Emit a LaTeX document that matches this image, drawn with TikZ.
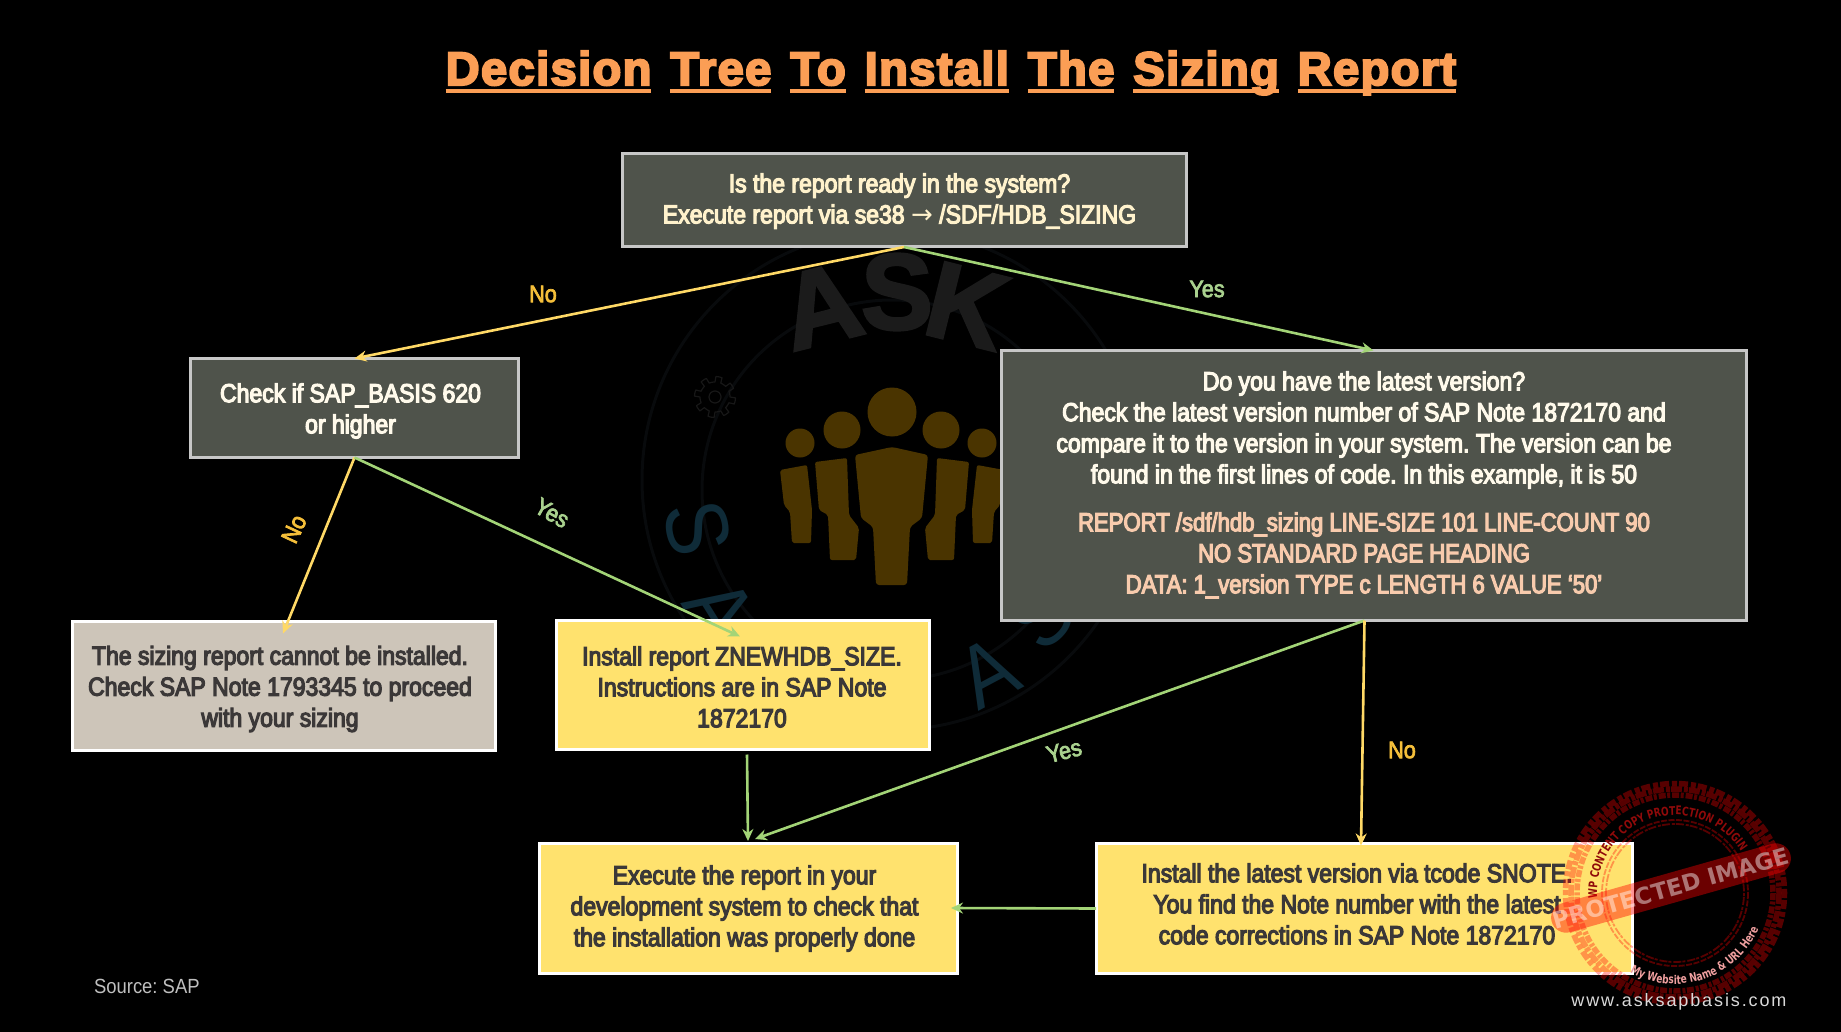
\documentclass[tikz,border=0pt]{standalone}
\usepackage{fontspec}
\usepackage{array}
\usetikzlibrary{arrows.meta,calc,decorations.text}
\setmainfont{Liberation Sans}[FakeStretch=0.885,FakeBold=4.5]
\newfontfamily\peachfont{Liberation Sans}[FakeStretch=0.85,FakeBold=4.5]
\newfontfamily\labelfont{Liberation Sans}[FakeStretch=0.9,FakeBold=3]
\newfontfamily\titlefont{Liberation Sans Bold}[LetterSpace=3,FakeBold=4.5]
\newfontfamily\plainfont{Liberation Sans}[FakeStretch=0.9]
\newfontfamily\askfont{Liberation Sans Bold}[FakeBold=2.5]
\newfontfamily\webfont{Liberation Sans}[LetterSpace=10.5]
\newfontfamily\stampfont{DejaVu Sans Bold}[FakeStretch=0.75]
\newfontfamily\bandfont{DejaVu Sans Bold}
\frenchspacing
\definecolor{greybox}{HTML}{4F534B}
\definecolor{yellowbox}{HTML}{FFE26E}
\definecolor{stonebox}{HTML}{CDC5B9}
\definecolor{cream}{HTML}{FFF2CC}
\definecolor{offwhite}{HTML}{FFFAEB}
\definecolor{peach}{HTML}{F8CBAD}
\definecolor{darktext}{HTML}{3B3838}
\definecolor{lineyellow}{HTML}{FFD966}
\definecolor{linegreen}{HTML}{A3D477}
\definecolor{noyellow}{HTML}{F5BF3A}
\definecolor{yesgreen}{HTML}{A9D18E}
\definecolor{titleorange}{HTML}{FB9E55}
\definecolor{wmgrey}{HTML}{1B1B1B}
\definecolor{wmgear}{HTML}{171717}
\definecolor{wmbrown}{HTML}{4A3400}
\definecolor{wmteal}{HTML}{0F2B38}
\definecolor{wmring}{HTML}{080A0C}
\definecolor{stampred}{HTML}{8F0A0A}
\definecolor{stamppink}{HTML}{F0A0A0}
\newcommand{\tw}[1]{\setbox0\hbox{#1}\rlap{\rule[-8pt]{\wd0}{3.6pt}}\box0}
\newcommand{\boxtext}[3]{\fontsize{26}{31}\selectfont\kern-#1pt\raisebox{-#2pt}[\height][\depth]{\begin{tabular}{@{}c@{}}#3\end{tabular}}}
\tikzset{
  x=1pt,y=-1pt,
  flowbox/.style={draw,line width=3pt,inner sep=0pt,outer sep=0pt},
  greynode/.style={flowbox,draw=white!78!black,fill=greybox,text=offwhite},
  yellownode/.style={flowbox,draw=white,fill=yellowbox,text=darktext},
  stonenode/.style={flowbox,draw=white,fill=stonebox,text=darktext},
  flowyellow/.style={draw=lineyellow,line width=2.6pt,-{Stealth[length=12pt,width=11pt]}},
  flowgreen/.style={draw=linegreen,line width=2.6pt,-{Stealth[length=12pt,width=11pt]}},
  nolabel/.style={text=noyellow,font=\labelfont\fontsize{24}{26}\selectfont},
  yeslabel/.style={text=yesgreen,font=\labelfont\fontsize{24}{26}\selectfont},
  wmletter/.style={text=wmteal,font=\plainfont\fontsize{88}{88}\selectfont},
  wmask/.style={text=wmgrey,font=\askfont\fontsize{108}{108}\selectfont},
  stampring/.style={draw=red,opacity=0.34},
}
\begin{document}
\begin{tikzpicture}
\useasboundingbox (0,0) rectangle (1841,1032);
\fill[black] (0,0) rectangle (1841,1032);
% watermark logo
\draw[wmring,line width=3pt] (892,480) circle (250);
\draw[wmring,line width=3pt] (892,490) circle (190);
\node[wmask,rotate=14] (wmA) at (821,306) {A};
\node[wmask] (wmS) at (897,292) {S};
\node[wmask,rotate=-14] (wmK) at (967,306) {K};
\draw[wmgear,line width=1.2pt] (715,397) circle (6);
\draw[wmgear,line width=1.2pt,line join=round] plot[samples=145,domain=0:360] ({715+(15+5.5*(sin(8*\x)>0?1:0))*cos(\x)},{397+(15+5.5*(sin(8*\x)>0?1:0))*sin(\x)}) -- cycle;
\foreach \lx/\ly/\lr/\ll in {698/528/-78/S,720/610/-58/A,988/672/28/A,1040/616/47/S}{
  \node[wmletter,rotate=\lr] (wm\ll\lx) at (\lx,\ly) {\ll};
}
\fill[wmbrown] (892,412) circle (24.5);
\fill[wmbrown] (842,430) circle (18.5) (941,430) circle (18.5);
\fill[wmbrown] (800,443) circle (14.5) (982,443) circle (14.5);
\fill[wmbrown,rounded corners=3pt] (855,455) -- (892,447) -- (928,455) -- (922,518) -- (910,527) -- (907,585) -- (876,585) -- (873,527) -- (861,518) -- cycle;
\foreach \side in {1,-1}{
  \begin{scope}[xshift=892pt,xscale=\side]
  \fill[wmbrown,rounded corners=2pt] (-45,458) -- (-77,462) -- (-73,510) -- (-64,515) -- (-62,560) -- (-36,560) -- (-33,528) -- (-43,515) -- cycle;
  \fill[wmbrown,rounded corners=2pt] (-85,465) -- (-112,470) -- (-108,505) -- (-102,512) -- (-100,543) -- (-81,543) -- (-80,510) -- cycle;
  \end{scope}
}
% boxes
\node[greynode,text=cream,minimum width=564pt,minimum height=93pt] (top) at (904,200.5) {\boxtext{9}{1.2}{Is the report ready in the system?\\Execute report via se38 {\fontspec{DejaVu Sans}→} /SDF/HDB\_SIZING}};
\node[greynode,minimum width=328pt,minimum height=99pt] (check) at (354.5,408) {\boxtext{8}{3.5}{Check if SAP\_BASIS 620\\or higher}};
\node[greynode,minimum width=745pt,minimum height=270pt] (latest) at (1373.5,485.5) {\boxtext{19}{0}{Do you have the latest version?\\Check the latest version number of SAP Note 1872170 and\\compare it to the version in your system. The version can be\\found in the first lines of code. In this example, it is 50\\[17pt]\color{peach}\peachfont REPORT /sdf/hdb\_sizing LINE-SIZE 101 LINE-COUNT 90\\\color{peach}\peachfont NO STANDARD PAGE HEADING\\\color{peach}\peachfont DATA: 1\_version TYPE c LENGTH 6 VALUE ‘50’}};
\node[stonenode,minimum width=423pt,minimum height=129pt] (cannot) at (284,686) {\boxtext{8}{3.5}{The sizing report cannot be installed.\\Check SAP Note 1793345 to proceed\\with your sizing}};
\node[yellownode,minimum width=373pt,minimum height=129pt] (install) at (743,685) {\boxtext{2}{5}{Install report ZNEWHDB\_SIZE.\\Instructions are in SAP Note\\1872170}};
\node[yellownode,minimum width=418pt,minimum height=130pt] (execute) at (748,908) {\boxtext{7}{1}{Execute the report in your\\development system to check that\\the installation was properly done}};
\node[yellownode,minimum width=536pt,minimum height=130pt] (snote) at (1364,908.5) {\boxtext{14}{-1.5}{Install the latest version via tcode SNOTE.\\You find the Note number with the latest\\code corrections in SAP Note 1872170}};
% connector ends
\coordinate (cannotEnd) at ($(cannot.north)+(-1,12)$);
\coordinate (installEnd) at ($(install.north)+(-3,16)$);
\coordinate (installOut) at ($(install.south)+(4,5)$);
\coordinate (execIn) at ($(execute.north)+(0,-2)$);
\coordinate (execInB) at ($(execute.north)+(7,-4)$);
\coordinate (latestOut) at ($(latest.south)+(-9,0)$);
\coordinate (snoteIn) at ($(snote.north)+(-3,2)$);
\coordinate (execSide) at ($(execute.east)+(-6,0)$);
% connectors
\draw[flowyellow] (top.south) -- (check.north);
\draw[flowgreen] (top.south) -- (latest.north);
\draw[flowyellow] (check.south) -- (cannotEnd);
\draw[flowgreen] (check.south) -- (installEnd);
\draw[flowgreen] (installOut) -- (execIn);
\draw[flowgreen] (latestOut) -- (execInB);
\draw[flowyellow] (latestOut) -- (snoteIn);
\draw[flowgreen] (snote.west) -- (execSide);
% connector labels
\node[nolabel] (lNo1) at (543,294) {No};
\node[yeslabel] (lYes1) at (1207,289) {Yes};
\node[nolabel,rotate=65] (lNo2) at (294,529) {No};
\node[yeslabel,rotate=-30] (lYes2) at (552,513) {Yes};
\node[yeslabel,rotate=14] (lYes3) at (1064,751) {Yes};
\node[nolabel] (lNo3) at (1402,750) {No};
% title and source
\node[text=titleorange,font=\titlefont\fontsize{47}{52}\selectfont,anchor=base] (title) at (951,85) {\tw{Decision}\hspace{19pt}\tw{Tree}\hspace{19pt}\tw{To}\hspace{19pt}\tw{Install}\hspace{19pt}\tw{The}\hspace{19pt}\tw{Sizing}\hspace{19pt}\tw{Report}};
\node[text=white!75!black,font=\plainfont\fontsize{20.5}{24}\selectfont,anchor=west] (source) at (90.5,986) {Source: SAP};
% stamp
\coordinate (stampC) at (1675,893);
\draw[stampring,line width=5.5pt,dash pattern=on 7pt off 1.5pt on 3pt off 2pt] (stampC) circle (98);
\draw[stampring,line width=5.5pt,dash pattern=on 11pt off 2pt on 4pt off 1pt] (stampC) circle (104);
\draw[stampring,line width=5.5pt,dash pattern=on 5pt off 2pt on 9pt off 3pt] (stampC) circle (109.5);
\draw[stampring,line width=1.8pt,dash pattern=on 6pt off 1.5pt] (stampC) circle (73);
\draw[stampring,line width=1.8pt,dash pattern=on 3pt off 1pt on 8pt off 2pt] (stampC) circle (69);
\path[postaction={decorate,decoration={text along path,text align=center,text={|\stampfont\fontsize{12}{12}\selectfont\color{stampred}|WP CONTENT COPY PROTECTION PLUGIN}}}] ($(stampC)+(178:78)$) arc[start angle=178,end angle=326,radius=78];
\fill[red,opacity=0.42,rounded corners=15pt,rotate around={15.8:(1671,888)}] (1547,873) rectangle (1795,903);
\node[rotate=15.8,text=white,opacity=0.45,font=\bandfont\fontsize{23}{26}\selectfont] (stampband) at (1671,888) {PROTECTED IMAGE};
\path[postaction={decorate,decoration={text along path,text align=center,text={|\stampfont\fontsize{12}{12}\selectfont\color{stamppink}|My Website Name {\&} URL Here}}}] ($(stampC)+(123:91)$) arc[start angle=123,end angle=20,radius=91];
\node[text=white!85!black,font=\webfont\fontsize{18}{20}\selectfont,anchor=east] (website) at (1790,1002) {www.asksapbasis.com};
\end{tikzpicture}
\end{document}
